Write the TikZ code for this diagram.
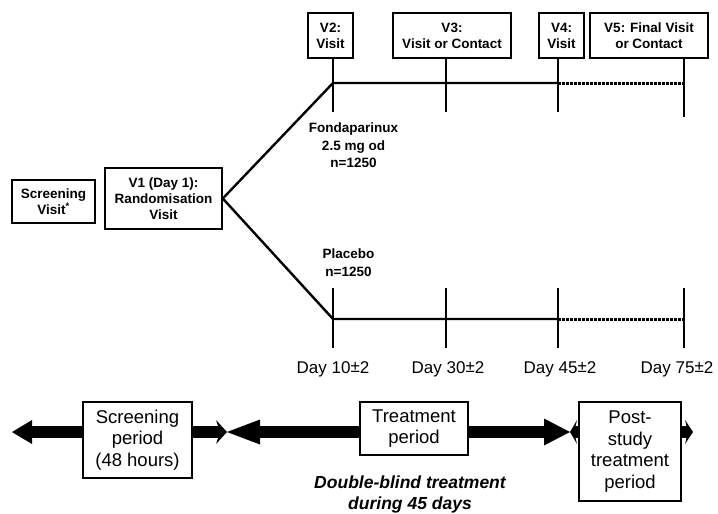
\documentclass[tikz,border=0pt]{standalone}
\usepackage{fontspec}
\setmainfont{Liberation Sans}
\usetikzlibrary{arrows.meta,positioning}

\begin{document}
\begin{tikzpicture}[x=1pt,y=-1pt]
  \tikzset{ visit/.style={draw,line width=1.6pt,align=center,inner sep=0pt,
      font=\bfseries\fontsize{13.5}{16}\selectfont},
    period/.style={draw,line width=1.6pt,align=center,inner sep=0pt,
      font=\fontsize{18.5}{21.5}\selectfont},
    arm/.style={align=center,font=\bfseries\fontsize{13.5}{17.5}\selectfont},
    day/.style={font=\fontsize{17}{20}\selectfont},
    tl/.style={line width=1.5pt},
    big/.style={line width=12pt},
    dots/.style={line width=3pt,dash pattern=on 2.5pt off 1.5pt},
  }
  \useasboundingbox (0,0) rectangle (718,514);

  % visit boxes
  \node[visit,minimum width=83,minimum height=43] (sv) at (53.5,201.5) {Screening\\Visit\textsuperscript{*}};
  \node[visit,minimum width=117,minimum height=61] (v1) at (163.5,198.5) {V1 (Day 1):\\Randomisation\\Visit};
  \node[visit,minimum width=45,minimum height=45] (v2) at (330.5,35.5) {V2:\\Visit};
  \node[visit,minimum width=118,minimum height=45] (v3) at (452,35.5) {V3:\\Visit or Contact};
  \node[visit,minimum width=45,minimum height=45] (v4) at (561.5,35.5) {V4:\\Visit};
  \node[visit,minimum width=118,minimum height=45] (v5) at (649,35.5) {V5: Final Visit\\or Contact};

  % the two arms
  \coordinate (top2) at (333,83);
  \coordinate (top3) at (446,83);
  \coordinate (top4) at (558,83);
  \coordinate (top5) at (684,83);
  \coordinate (bot2) at (333,319);
  \coordinate (bot3) at (446,319);
  \coordinate (bot4) at (558,319);
  \coordinate (bot5) at (684,319);
  \draw[line width=2.4pt] (v1.east) -- (top2) -- (top4);
  \draw[line width=2.4pt] (v1.east) -- (bot2) -- (bot4);
  \draw[dots] (top4) -- (top5);
  \draw[dots] (bot4) -- (bot5);

  % ticks
  \draw[tl] (v2.south -| top2) -- (333,112);
  \draw[tl] (v3.south -| top3) -- (446,112);
  \draw[tl] (v4.south -| top4) -- (558,112);
  \draw[tl] (v5.south -| top5) -- (684,117);
  \foreach \x in {333,446,558,684}
    \draw[tl] (\x,288) -- (\x,348);

  \node[arm] (fon) at (353.5,145.5) {Fondaparinux\\2.5 mg od\\n=1250};
  \node[arm] (pla) at (348.5,262.5) {Placebo\\n=1250};

  % days
  \node[day] (d10) at (333,369) {Day 10\raisebox{0.5pt}{±}2};
  \node[day] (d30) at (448,369) {Day 30\raisebox{0.5pt}{±}2};
  \node[day] (d45) at (560,369) {Day 45\raisebox{0.5pt}{±}2};
  \node[day] (d75) at (677,369) {Day 75\raisebox{0.5pt}{±}2};

  % periods
  \node[period,minimum width=109,minimum height=76] (sp) at (137.5,440) {Screening\\period\\(48 hours)};
  \node[period,minimum width=108,minimum height=53] (tp) at (414,428.5) {Treatment\\period};
  \node[period,minimum width=102,minimum height=99] (pp) at (630,451.5) {Post-\\study\\treatment\\period};
  \coordinate (a1) at (12,432);
  \coordinate (a2) at (227,432);
  \coordinate (a3) at (570,432);
  \coordinate (a4) at (693,432);
  \draw[big,-{Triangle[length=20pt,width=24pt,line width=0pt]}] (sp.west |- a1) -- (a1);
  \draw[big,-{Stealth[length=11pt,width=24pt,inset=4pt,line width=0pt]}] (sp.east |- a2) -- (a2);
  \draw[big,-{Triangle[length=33pt,width=25pt,line width=0pt]}] (tp.west |- a2) -- (a2);
  \draw[big,-{Triangle[length=26pt,width=27pt,line width=0pt]}] (tp.east |- a3) -- (a3);
  \draw[big,-{Stealth[length=7pt,width=24pt,inset=3pt,line width=0pt]}] (pp.west |- a3) -- (a3);
  \draw[big,-{Stealth[length=8pt,width=24pt,inset=3pt,line width=0pt]}] (pp.east |- a4) -- (a4);

  \node[font=\bfseries\itshape\fontsize{17.5}{21}\selectfont,align=center] (db) at (410,494) {Double-blind treatment\\during 45 days};
\end{tikzpicture}
\end{document}
